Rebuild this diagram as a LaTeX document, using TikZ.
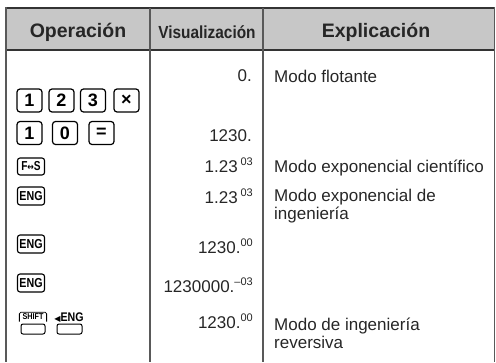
\documentclass[tikz,border=0pt]{standalone}
\usepackage{fontspec}
\setmainfont{Liberation Sans}
\newfontfamily\symf{DejaVu Sans}
\begin{document}
\begin{tikzpicture}[x=1pt,y=-1pt,
  hdr/.style={font=\bfseries\fontsize{19.5}{20}\selectfont, text=black!85, inner sep=0, anchor=base},
  val/.style={font=\fontsize{17}{18}\selectfont, text=black!85, inner sep=0, anchor=base east},
  expl/.style={font=\fontsize{17}{18}\selectfont, text=black!85, inner sep=0, anchor=base west},
  key/.style={draw, rounded corners=3pt, line width=1.2pt, minimum width=25pt, minimum height=23pt, inner sep=0, font=\bfseries\fontsize{18}{18}\selectfont},
  skey/.style={draw, rounded corners=2.5pt, line width=1.1pt, minimum width=27pt, minimum height=18pt, inner sep=0, font=\bfseries\fontsize{13}{13}\selectfont},
  bkey/.style={draw, rounded corners=2pt, line width=1pt, minimum width=24pt, minimum height=10pt, inner sep=0},
  vrule/.style={draw=black!65, line width=1.5pt},
  hrule/.style={draw=black!80, line width=1.6pt}]
\useasboundingbox (0,0) rectangle (496,362);
% header
\fill[black!22] (6,8) rectangle (494.5,50);
\draw[hrule, line width=2pt] (5.3,8) -- (495.2,8);
\draw[hrule, line width=1.2pt] (6,50) -- (494.5,50);
\draw[vrule] (6,7) -- (6,362);
\draw[vrule] (150,8) -- (150,362);
\draw[vrule] (263,8) -- (263,362);
\draw[vrule] (494.5,7) -- (494.5,362);
\node[hdr] (hop) at (78,37) {Operación};
\node[hdr, font=\bfseries\fontsize{17.5}{18}\selectfont] (hvi) at (207,38) {\scalebox{0.88}[1]{Visualización}};
\node[hdr] (hex) at (376,37) {Explicación};
% keys row 1
\node[key] (k1) at (29.5,100.5) {1};
\node[key] (k2) at (61.5,100.5) {2};
\node[key] (k3) at (93,100.5) {3};
\node[key] (kx) at (126.5,100.5) {×};
% keys row 2
\node[key] (k1b) at (29.5,133) {1};
\node[key] (k0) at (65,133) {0};
\node[key] (keq) at (101.5,133) {=};
% function keys
\node[skey, minimum height=17pt] (kfs) at (31,166.5) {\scalebox{0.78}[1]{F{\symf\fontsize{10}{10}\selectfont ↔}S}};
\node[skey] (keng1) at (31,196) {\scalebox{0.82}[1]{ENG}};
\node[skey] (keng2) at (31,244) {\scalebox{0.82}[1]{ENG}};
\node[skey] (keng3) at (31,283) {\scalebox{0.82}[1]{ENG}};
% shift / eng
\node[inner sep=1pt, font=\bfseries\fontsize{8.5}{8.5}\selectfont] (lsh) at (33,316.5) {\scalebox{0.85}[1]{SHIFT}};
\draw[line width=0.8pt, rounded corners=1.5pt] ([xshift=-2pt,yshift=-1pt]lsh.south west) |- ([xshift=2pt]lsh.north east) -- ([xshift=2pt,yshift=-1pt]lsh.south east);
\node[inner sep=0, font=\bfseries\fontsize{12.5}{12.5}\selectfont, anchor=base] (leng) at (69,321) {{\symf\fontsize{8}{8}\selectfont ◀}\scalebox{0.85}[1]{ENG}};
\node[bkey] (ksh) at (33,329) {};
\node[bkey, minimum width=25pt] (keng4) at (69.5,329) {};
% display values
\node[val] (v1) at (252,81) {0.};
\node[val] (v2) at (252,141) {1230.};
\node[val] (v3) at (253,172) {1.23\,\raisebox{7pt}{\fontsize{11}{11}\selectfont 03}};
\node[val] (v4) at (253,203) {1.23\,\raisebox{7pt}{\fontsize{11}{11}\selectfont 03}};
\node[val] (v5) at (253,253) {1230.\raisebox{7pt}{\fontsize{11}{11}\selectfont 00}};
\node[val] (v6) at (253,292) {1230000.\raisebox{7pt}{\fontsize{11}{11}\selectfont –03}};
\node[val] (v7) at (253,328) {1230.\raisebox{7pt}{\fontsize{11}{11}\selectfont 00}};
% explanations
\node[expl] (e1) at (274,82) {Modo flotante};
\node[expl] (e2) at (274,172) {Modo exponencial científico};
\node[expl] (e3a) at (274,201) {Modo exponencial de};
\node[expl] (e3b) at (274,219) {ingeniería};
\node[expl] (e4a) at (274,330) {Modo de ingeniería};
\node[expl] (e4b) at (274,348) {reversiva};
\end{tikzpicture}
\end{document}
